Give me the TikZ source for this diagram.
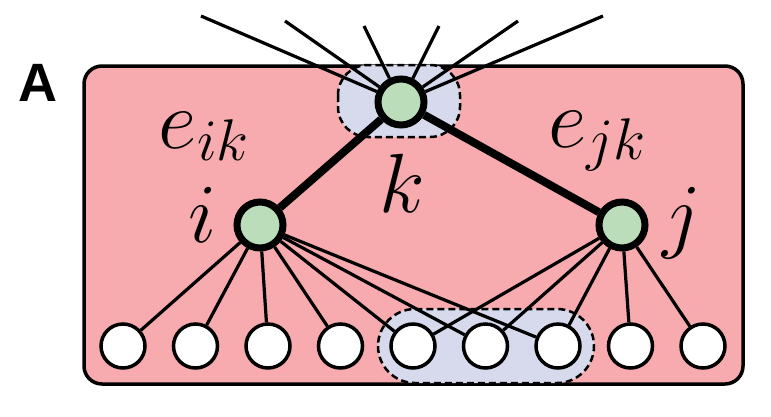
\RequirePackage{fix-cm}
\documentclass[tikz,border=0pt]{standalone}
\usepackage{fontspec}
\newfontfamily\panelfont{Liberation Sans}
\usetikzlibrary{positioning}
\definecolor{boxpink}{RGB}{247,171,174}
\definecolor{groupblue}{RGB}{214,218,236}
\definecolor{pairgreen}{RGB}{187,221,185}

\begin{document}
\begin{tikzpicture}[x=1pt, y=-1pt,
    pair/.style={circle, draw, line width=7pt, fill=pairgreen, minimum size=46pt, inner sep=0pt},
    leaf/.style={circle, draw, line width=3.5pt, fill=white, minimum size=44pt, inner sep=0pt},
    group/.style={draw, dash pattern=on 7pt off 4pt, line width=2.5pt, fill=groupblue},
    link/.style={line width=3.2pt},
    bond/.style={line width=8pt},
    lbl/.style={anchor=base, inner sep=0pt, font=\fontsize{84}{84}\selectfont}
]
    \useasboundingbox (0,0) rectangle (771,416);

    % panel
    \draw[line width=3.5pt, fill=boxpink, rounded corners=18pt] (84,66) rectangle (743,384);
    \node[font=\panelfont\bfseries\fontsize{54}{54}\selectfont, inner sep=0pt] (panel) at (38,83) {A};

    % dashed groups
    \draw[group, rounded corners=30pt] (338,65) rectangle (460,137);
    \draw[group, rounded corners=37pt] (378,309) rectangle (594,383);

    % nodes
    \node[pair] (k) at (401,102) {};
    \node[pair] (i) at (260,225) {};
    \node[pair] (j) at (622,225) {};
    \foreach \n in {1,...,9}
        \node[leaf] (v\n) at ({123+72.5*(\n-1)},346) {};

    % outside links
    \coordinate (o1) at (201,16);
    \coordinate (o2) at (285,21);
    \coordinate (o3) at (364,26);
    \coordinate (o4) at (439,26);
    \coordinate (o5) at (518,21);
    \coordinate (o6) at (603,16);
    \foreach \n in {1,...,6}
        \draw[link] (k) -- (o\n);

    \foreach \n in {1,...,7}
        \draw[link] (i) -- (v\n);
    \foreach \n in {5,...,9}
        \draw[link] (j) -- (v\n);

    \draw[bond] (k) -- (i);
    \draw[bond] (k) -- (j);

    % labels
    \node[lbl] (eik) at (204,148) {$e_{ik}$};
    \node[lbl] (ejk) at (597,147) {$e_{jk}$};
    \node[lbl] (lk) at (402,212) {$k$};
    \node[lbl] (li) at (203,242) {$i$};
    \node[lbl] (lj) at (682,242) {$j$};
\end{tikzpicture}
\end{document}
